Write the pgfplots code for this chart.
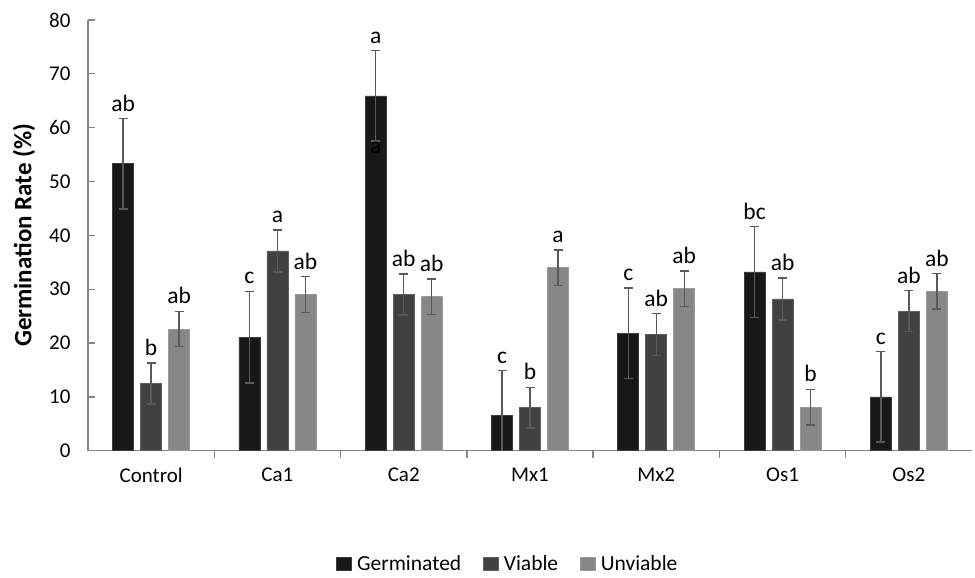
\documentclass[border=0pt]{standalone}
\usepackage{fontspec}
\setmainfont{Carlito}
\newfontfamily\ylabfont{Carlito}
\usepackage{pgfplots}
\pgfplotsset{compat=1.18}
\definecolor{cG}{HTML}{181818}
\definecolor{cV}{HTML}{414141}
\definecolor{cU}{HTML}{878787}
\definecolor{axgray}{HTML}{868686}
\definecolor{errgray}{HTML}{5A5A5A}
\begin{document}
\begin{tikzpicture}
\begin{axis}[
  name=ax,
  scale only axis, width=884pt, height=430.7pt,
  xmin=-0.5, xmax=6.5, ymin=0, ymax=80,
  clip=true,
  axis x line=bottom, axis y line=left,
  axis line style={-, draw=axgray, line width=1.3pt},
  ytick={0,10,...,80},
  xtick={0.5,1.5,...,5.5},
  xticklabels={,,,,,,},
  extra x ticks={0,1,2,3,4,5,6},
  extra x tick labels={Control,Ca1,Ca2,Mx1,Mx2,Os1,Os2},
  extra x tick style={major tick length=0pt},
  tick align=inside,
  major tick length=7pt,
  tick style={draw=axgray, line width=1.3pt},
  ticklabel style={font=\fontsize{21}{25}\selectfont, text=black},
  /pgf/number format/assume math mode=true,
  yticklabel style={xshift=-14pt},
  xticklabel style={yshift=-14pt},
  ylabel={\ylabfont\bfseries Germination Rate (\%)},
  ylabel style={font=\fontsize{25}{30}\selectfont, at={(axis description cs:-0.0724,0.5)}, anchor=center},
  ybar, bar width=21pt,
  legend style={at={(0.475,-0.2631)}, anchor=center, draw=none, fill=none,
    legend columns=3, font=\fontsize{21.5}{25}\selectfont,
    /tikz/every even column/.append style={column sep=20pt},
    /tikz/every odd column/.append style={column sep=3pt},
    nodes={inner xsep=2pt}},
  legend image code/.code={\fill[#1] (0pt,-6.5pt) rectangle (15pt,6.5pt);},
]
\addplot[ybar, fill=cG, draw=cG!85!white, line width=0.6pt, bar shift=-28pt,
  error bars/.cd, y dir=both, y explicit,
  error bar style={draw=errgray, line width=1.3pt},
  error mark options={rotate=90, mark size=4.5pt, line width=1.3pt, draw=errgray}]
coordinates {(0,53.3) +- (0,8.4) (1,21.1) +- (0,8.5) (2,65.9) +- (0,8.4) (3,6.5) +- (0,8.4)
 (4,21.8) +- (0,8.4) (5,33.2) +- (0,8.4) (6,10.0) +- (0,8.4)};
\addplot[ybar, fill=cV, draw=cV!85!white, line width=0.6pt, bar shift=0pt,
  error bars/.cd, y dir=both, y explicit,
  error bar style={draw=errgray, line width=1.3pt},
  error mark options={rotate=90, mark size=4.5pt, line width=1.3pt, draw=errgray}]
coordinates {(0,12.5) +- (0,3.8) (1,37.1) +- (0,3.9) (2,29.0) +- (0,3.8) (3,8.0) +- (0,3.8)
 (4,21.6) +- (0,3.9) (5,28.2) +- (0,3.9) (6,25.9) +- (0,3.8)};
\addplot[ybar, fill=cU, draw=cU!85!white, line width=0.6pt, bar shift=28pt,
  error bars/.cd, y dir=both, y explicit,
  error bar style={draw=errgray, line width=1.3pt},
  error mark options={rotate=90, mark size=4.5pt, line width=1.3pt, draw=errgray}]
coordinates {(0,22.6) +- (0,3.3) (1,29.0) +- (0,3.3) (2,28.6) +- (0,3.3) (3,34.0) +- (0,3.3)
 (4,30.1) +- (0,3.3) (5,8.1) +- (0,3.3) (6,29.6) +- (0,3.3)};
\legend{Germinated,Viable,Unviable}
% significance letters
\addplot[ybar, draw=none, fill=none, bar shift=-28pt, forget plot,
  point meta=explicit symbolic, nodes near coords,
  every node near coord/.append style={anchor=south, inner sep=0pt, yshift=7pt, font=\fontsize{23.5}{28}\selectfont, text=black}]
coordinates {(0,61.7) [ab] (1,29.6) [c] (2,74.3) [a] (3,14.9) [c] (4,30.2) [c] (5,41.6) [bc] (6,18.4) [c]};
\addplot[ybar, draw=none, fill=none, bar shift=0pt, forget plot,
  point meta=explicit symbolic, nodes near coords,
  every node near coord/.append style={anchor=south, inner sep=0pt, yshift=7pt, font=\fontsize{23.5}{28}\selectfont, text=black}]
coordinates {(0,16.3) [b] (1,41.0) [a] (2,32.8) [ab] (3,11.8) [b] (4,25.5) [ab] (5,32.1) [ab] (6,29.7) [ab]};
\addplot[ybar, draw=none, fill=none, bar shift=28pt, forget plot,
  point meta=explicit symbolic, nodes near coords,
  every node near coord/.append style={anchor=south, inner sep=0pt, yshift=7pt, font=\fontsize{23.5}{28}\selectfont, text=black}]
coordinates {(0,25.9) [ab] (1,32.3) [ab] (2,31.9) [ab] (3,37.3) [a] (4,33.4) [ab] (5,11.4) [b] (6,32.9) [ab]};
% faint letter inside the Ca2 bar
\addplot[ybar, draw=none, fill=none, bar shift=-28pt, forget plot,
  point meta=explicit symbolic, nodes near coords,
  every node near coord/.append style={anchor=south, inner sep=0pt, font=\fontsize{23.5}{28}\selectfont, text=black}]
coordinates {(2,55.1) [a]};
\end{axis}
\pgfresetboundingbox
\path (ax.south west) ++(-88pt,-127.3pt) rectangle ([shift={(3pt,20pt)}]ax.north east);
\end{tikzpicture}
\end{document}
